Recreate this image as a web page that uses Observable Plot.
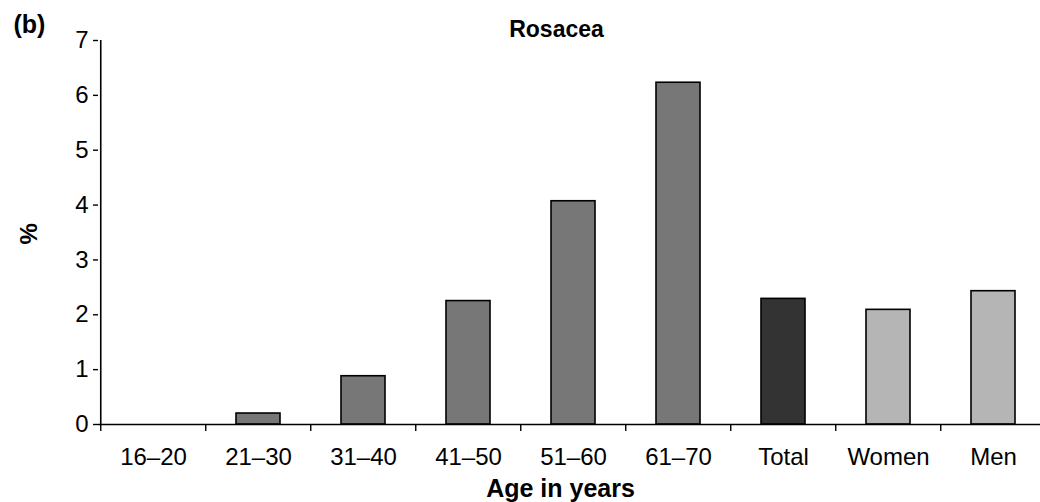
<!DOCTYPE html>
<html>
<head>
<meta charset="utf-8">
<script src="https://cdn.jsdelivr.net/npm/d3@7"></script>
<script src="https://cdn.jsdelivr.net/npm/@observablehq/plot@0.6"></script>
<style>
  html, body { margin: 0; padding: 0; background: #fff; }
  #chart svg { display: block; }
</style>
</head>
<body>
<div id="chart"></div>
<script>
const categories = ["16–20", "21–30", "31–40", "41–50", "51–60", "61–70", "Total", "Women", "Men"];
const values = [0, 0.2, 0.88, 2.25, 4.07, 6.23, 2.29, 2.09, 2.43];
const groups = ["age", "age", "age", "age", "age", "age", "total", "sex", "sex"];
const yTicks = [0, 1, 2, 3, 4, 5, 6, 7];

const data = categories.map((c, i) => ({category: c, value: values[i], group: groups[i]}));

const W = 1040, H = 502;
const left = 98, rightEnd = 1047.5;
const halfStep = (rightEnd - left) / categories.length / 2;
const font = "'Liberation Sans', Arial, Helvetica, sans-serif";

const plot = Plot.plot({
  width: W,
  height: H,
  marginLeft: left,
  marginRight: 0,
  marginTop: 40,
  marginBottom: 78,
  style: {fontFamily: font, fontSize: "24px", color: "#000", background: "#fff"},
  x: {domain: categories, range: [left, rightEnd], paddingInner: 0.58, paddingOuter: 0.29, label: null},
  y: {domain: [0, 7], ticks: yTicks, label: null},
  color: {domain: ["age", "total", "sex"], range: ["#777777", "#333333", "#b5b5b5"]},
  marks: [
    Plot.barY(data.filter(d => d.value > 0), {x: "category", y: "value", fill: "group", stroke: "#000", strokeWidth: 1.6}),
    Plot.ruleY([0], {stroke: "#000", strokeWidth: 1.6}),
    Plot.ruleX([categories[0]], {x: d => d, dx: -halfStep, y1: 0, y2: 7, stroke: "#000", strokeWidth: 1.6}),
    Plot.axisY({ticks: yTicks, tickSize: 5, tickPadding: 5, tickFormat: d => String(d), fontSize: 24, strokeWidth: 1.4, label: null}),
    Plot.axisX({tickSize: 7, tickFormat: () => "", dx: -halfStep, strokeWidth: 1.4, label: null}),
    Plot.axisX({tickSize: 0, tickPadding: 23, fontSize: 24, label: null}),
    Plot.text(["Age in years"], {frameAnchor: "bottom", dx: -9, dy: 72, fontWeight: "bold", fontSize: 25, fill: "#000"}),
    Plot.text(["%"], {frameAnchor: "left", dx: -69, dy: 12, rotate: -90, fontWeight: "bold", fontSize: 24, fill: "#000"}),
    Plot.text(["Rosacea"], {frameAnchor: "top", dx: -13, dy: -20, fontWeight: "bold", fontSize: 23, fill: "#000"}),
    Plot.text(["(b)"], {frameAnchor: "top-left", dx: -85, dy: -25, textAnchor: "start", fontWeight: "bold", fontSize: 25, fill: "#000"})
  ]
});
document.getElementById("chart").appendChild(plot);
</script>
</body>
</html>
